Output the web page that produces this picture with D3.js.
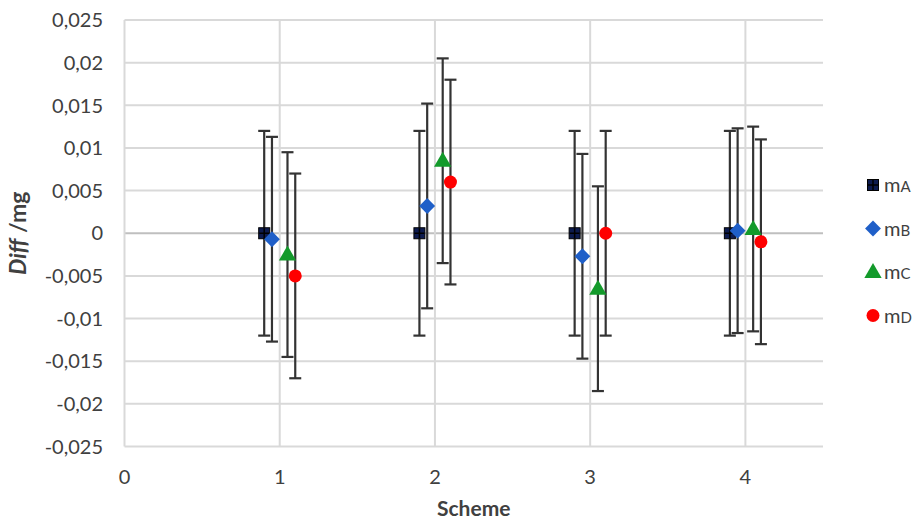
<!DOCTYPE html>
<html><head><meta charset="utf-8">
<script src="https://cdn.jsdelivr.net/npm/d3@7"></script>
<style>body{margin:0;background:#fff}svg{display:block}</style>
</head><body>
<script>
const schemes = [1, 2, 3, 4];
const seriesNames = ["A", "B", "C", "D"];
const offsets = [-0.1, -0.05, 0.05, 0.1];
const valuesA = [0, 0, 0, 0];
const valuesB = [-0.0007, 0.0032, -0.0027, 0.0003];
const valuesC = [-0.0025, 0.0085, -0.0065, 0.0005];
const valuesD = [-0.005, 0.006, 0, -0.001];
const errorBar = 0.012;
const yTicks = [0.025, 0.02, 0.015, 0.01, 0.005, 0, -0.005, -0.01, -0.015, -0.02, -0.025];
const xTicks = [0, 1, 2, 3, 4];

const W = 919, H = 525;
const svg = d3.select("body").append("svg").attr("width", W).attr("height", H);
const font = "Lato, 'Open Sans', sans-serif";
const x = d3.scaleLinear().domain([0, 4.5]).range([124.5, 823]);
const y = d3.scaleLinear().domain([-0.025, 0.025]).range([446.5, 20]);

// grid
svg.append("g").selectAll("line").data(yTicks).join("line")
  .attr("x1", x(0)).attr("x2", x(4.5)).attr("y1", d => y(d)).attr("y2", d => y(d))
  .attr("stroke", d => d === 0 ? "#bfbfbf" : "#d9d9d9").attr("stroke-width", 2);
svg.append("g").selectAll("line").data(xTicks).join("line")
  .attr("x1", d => x(d)).attr("x2", d => x(d)).attr("y1", y(0.025)).attr("y2", y(-0.025))
  .attr("stroke", "#d9d9d9").attr("stroke-width", 2);

// axes labels
const fmt = d => d === 0 ? "0" : d3.format(".3~f")(d).replace(".", ",").replace("\u2212", "-");
svg.append("g").selectAll("text").data(yTicks).join("text")
  .attr("x", 103).attr("y", d => y(d)).attr("dy", "0.36em").attr("text-anchor", "end")
  .attr("font-family", font).attr("font-size", 20).attr("fill", "#404040").text(fmt);
svg.append("g").selectAll("text").data(xTicks).join("text")
  .attr("x", d => x(d)).attr("y", 484).attr("text-anchor", "middle")
  .attr("font-family", font).attr("font-size", 20).attr("fill", "#404040").text(d => d);

svg.append("text").attr("x", (x(0) + x(4.5)) / 2).attr("y", 516).attr("text-anchor", "middle")
  .attr("font-family", font).attr("font-weight", "bold").attr("font-size", 21).attr("fill", "#404040").text("Scheme");
const yl = svg.append("text").attr("transform", `translate(26,${y(0)}) rotate(-90)`).attr("text-anchor", "middle")
  .attr("font-family", font).attr("font-weight", "bold").attr("font-size", 23).attr("fill", "#404040");
yl.append("tspan").attr("font-style", "italic").text("Diff");
yl.append("tspan").text(" /mg");

const allValues = [valuesA, valuesB, valuesC, valuesD];
const colors = ["#0d1b4f", "#1f5fc8", "#139a2b", "#ff0000"];
const data = [];
allValues.forEach((vals, si) => vals.forEach((v, i) => data.push({s: si, xv: schemes[i] + offsets[si], v})));

// error bars
const eb = svg.append("g").attr("stroke", "#333333").attr("stroke-width", 2.2);
data.forEach(d => {
  const cx = x(d.xv);
  eb.append("line").attr("x1", cx).attr("x2", cx).attr("y1", y(d.v + errorBar)).attr("y2", y(d.v - errorBar));
  [d.v + errorBar, d.v - errorBar].forEach(e => eb.append("line").attr("x1", cx - 6).attr("x2", cx + 6).attr("y1", y(e)).attr("y2", y(e)));
});

function drawMarker(g, s, cx, cy) {
  if (s === 0) {
    g.append("rect").attr("x", cx - 5.5).attr("y", cy - 5.5).attr("width", 11).attr("height", 11)
      .attr("fill", colors[0]).attr("stroke", "#000").attr("stroke-width", 1);
    g.append("line").attr("x1", cx - 5).attr("x2", cx + 5).attr("y1", cy).attr("y2", cy).attr("stroke", "#000").attr("stroke-width", 1.5);
    g.append("line").attr("x1", cx).attr("x2", cx).attr("y1", cy - 5).attr("y2", cy + 5).attr("stroke", "#000").attr("stroke-width", 1.5);
  } else if (s === 1) {
    g.append("path").attr("d", d3.symbol(d3.symbolDiamond2, 160)()).attr("transform", `translate(${cx},${cy})`).attr("fill", colors[1]);
  } else if (s === 2) {
    g.append("path").attr("d", d3.symbol(d3.symbolTriangle, 130)()).attr("transform", `translate(${cx},${cy + 1})`).attr("fill", colors[2]);
  } else {
    g.append("circle").attr("cx", cx).attr("cy", cy).attr("r", 6.5).attr("fill", colors[3]);
  }
}
const mk = svg.append("g");
data.forEach(d => drawMarker(mk, d.s, x(d.xv), y(d.v)));

// legend
const lg = svg.append("g");
seriesNames.forEach((n, i) => {
  const ly = 185 + i * 43.5;
  drawMarker(lg, i, 873, ly);
  const t = lg.append("text").attr("x", 884).attr("y", ly).attr("dy", "0.36em")
    .attr("font-family", font).attr("font-size", 20).attr("fill", "#404040");
  t.append("tspan").text("m");
  t.append("tspan").attr("font-size", 15).text(n);
});
</script>
</body></html>
